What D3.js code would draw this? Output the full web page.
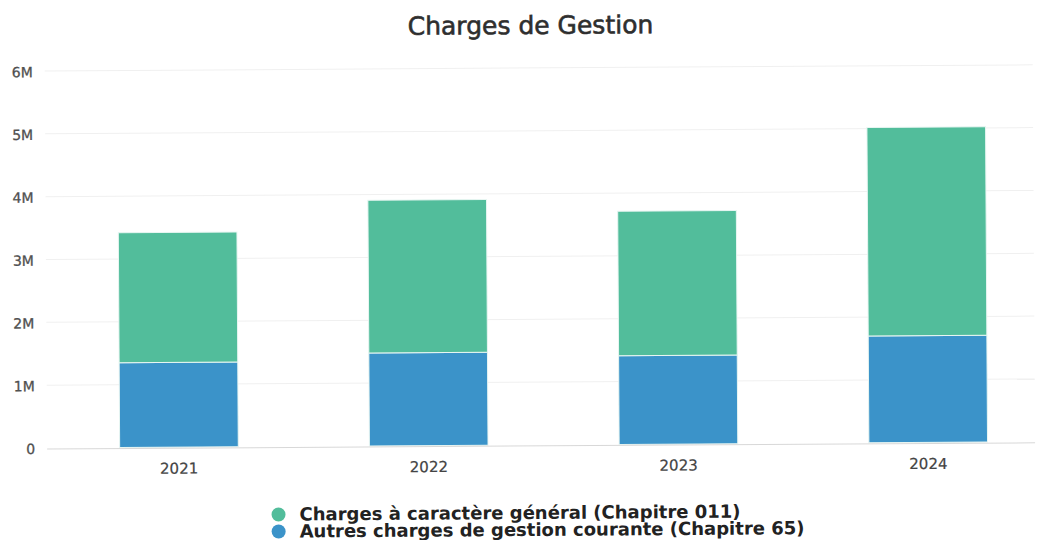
<!DOCTYPE html>
<html>
<head>
<meta charset="utf-8">
<script src="https://cdn.jsdelivr.net/npm/d3@7"></script>
<style>
  html, body { margin: 0; padding: 0; background: #fff; }
  svg { display: block; }
</style>
</head>
<body>
<script>
// Years on the x axis
const years = ["2021", "2022", "2023", "2024"];
// Chapitre 65 – autres charges de gestion courante (millions €)
const autresCharges = [1.35, 1.48, 1.41, 1.70];
// Chapitre 011 – charges à caractère général (millions €)
const chargesGenerales = [2.07, 2.43, 2.30, 3.32];
// Y tick values and labels
const yTicks = [0, 1, 2, 3, 4, 5, 6];
const yTickLabels = ["0", "1M", "2M", "3M", "4M", "5M", "6M"];
// Series names and colours
const seriesNames = ["Charges à caractère général (Chapitre 011)", "Autres charges de gestion courante (Chapitre 65)"];
const seriesColors = ["#52bd9b", "#3b93c9"];

const W = 1044, H = 540;
const svg = d3.select("body").append("svg").attr("width", W).attr("height", H);
const root = svg.append("g").attr("transform", "rotate(-0.36, 522, 270)");

const font = "'DejaVu Sans', sans-serif";

root.append("text")
  .attr("x", 532).attr("y", 34)
  .attr("text-anchor", "middle")
  .attr("font-family", font)
  .attr("font-size", 25)
  .attr("fill", "#2e2e2e")
  .attr("stroke", "#2e2e2e").attr("stroke-width", 0.6)
  .text("Charges de Gestion");

const x = d3.scaleBand().domain(years).range([53, 1052]).paddingInner(0.525).paddingOuter(0.2625);
const y = d3.scaleLinear().domain([0, 6]).range([445, 68]);

// Grid lines
root.append("g").selectAll("line").data(yTicks.slice(1)).join("line")
  .attr("x1", 46).attr("x2", 1034)
  .attr("y1", d => y(d)).attr("y2", d => y(d))
  .attr("stroke", "#f0f0f0").attr("stroke-width", 1);

// Y axis labels
const yAxis = d3.axisLeft(y).tickValues(yTicks).tickFormat((d, i) => yTickLabels[i]).tickSize(0).tickPadding(0);
const gy = root.append("g").attr("transform", "translate(34,1)").call(yAxis);
gy.select(".domain").remove();
gy.selectAll("text").attr("font-family", font).attr("font-size", 14)
  .attr("fill", "#505050").attr("stroke", "#505050").attr("stroke-width", 0.3);

// Stacked data
const rows = years.map((yr, i) => ({ year: yr, autres: autresCharges[i], generales: chargesGenerales[i] }));
const stack = d3.stack().keys(["autres", "generales"]);
const layers = stack(rows);
const layerColors = [seriesColors[1], seriesColors[0]];

root.append("g").selectAll("g").data(layers).join("g")
  .attr("fill", (d, i) => layerColors[i])
  .selectAll("rect").data(d => d).join("rect")
  .attr("x", d => x(d.data.year))
  .attr("width", x.bandwidth())
  .attr("y", d => y(d[1]))
  .attr("height", d => y(d[0]) - y(d[1]))
  .attr("stroke", "#e8f6f2").attr("stroke-width", 1);

// Baseline
root.append("line")
  .attr("x1", 46).attr("x2", 1034)
  .attr("y1", y(0) + 1).attr("y2", y(0) + 1)
  .attr("stroke", "#d8d8d8").attr("stroke-width", 1);

// X axis labels
const xAxis = d3.axisBottom(x).tickSize(0).tickPadding(0);
const gx = root.append("g").attr("transform", `translate(0,${y(0) + 13})`).call(xAxis);
gx.select(".domain").remove();
gx.selectAll("text").attr("font-family", font).attr("font-size", 15)
  .attr("fill", "#444").attr("stroke", "#444").attr("stroke-width", 0.2).attr("dy", "0.9em");

// Legend
const legend = root.append("g").attr("transform", "translate(277,513)");
const items = legend.selectAll("g").data(seriesNames).join("g")
  .attr("transform", (d, i) => `translate(0,${i * 17})`);
items.append("circle").attr("r", 7).attr("fill", (d, i) => seriesColors[i]);
items.append("text")
  .attr("x", 21).attr("y", 6)
  .attr("font-family", font).attr("font-size", 18).attr("font-weight", "bold")
  .attr("fill", "#222")
  .text(d => d);
</script>
</body>
</html>
